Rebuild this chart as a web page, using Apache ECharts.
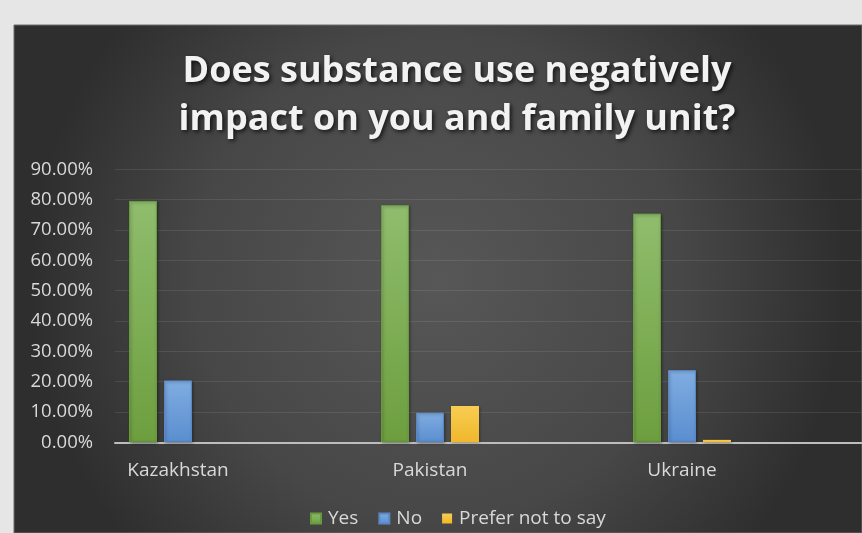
<!DOCTYPE html>
<html>
<head>
<meta charset="utf-8">
<script src="https://cdn.jsdelivr.net/npm/echarts@6/dist/echarts.min.js"></script>
<style>
  html, body { margin: 0; padding: 0; background: #e6e6e6; }
  #chart { width: 862px; height: 533px; }
</style>
</head>
<body>
<div id="chart"></div>
<script>
// Survey answers by country (share of respondents)
const countries = ['Kazakhstan', 'Pakistan', 'Ukraine'];
const yesShare = [0.796, 0.782, 0.754];
const noShare = [0.204, 0.098, 0.238];
const preferNotShare = [0, 0.120, 0.008];
const seriesNames = ['Yes', 'No', 'Prefer not to say'];
const yTicks = { min: 0, max: 0.9, step: 0.1 };

const chart = echarts.init(document.getElementById('chart'));

function barFill(top, bottom) {
  return new echarts.graphic.LinearGradient(0, 0, 0, 1, [
    { offset: 0, color: top },
    { offset: 1, color: bottom }
  ]);
}

function barSeries(name, data, top, bottom, border, borderWidth) {
  return {
    name: name,
    type: 'bar',
    xAxisIndex: 0,
    yAxisIndex: 0,
    data: data,
    barWidth: 28,
    barGap: '25%',
    itemStyle: {
      color: barFill(top, bottom),
      borderColor: border,
      borderWidth: borderWidth,
      shadowColor: 'rgba(0,0,0,0.35)',
      shadowBlur: 3,
      shadowOffsetX: 1,
      shadowOffsetY: 1
    },
    emphasis: { disabled: true },
    z: 3
  };
}

const axisTextColor = '#d9d9d9';
const fontFamily = '"Open Sans", "Noto Sans", sans-serif';

chart.setOption({
  animation: false,
  graphic: [{
    type: 'rect',
    z: -10,
    shape: { x: 14, y: 25, width: 848, height: 508 },
    style: {
      fill: new echarts.graphic.RadialGradient(0.5, 0.5, 0.8, [
        { offset: 0, color: '#575757' },
        { offset: 0.6, color: '#474747' },
        { offset: 1, color: '#2e2e2e' }
      ]),
      stroke: '#6c6c6c',
      lineWidth: 1
    }
  }],
  title: [{
    text: 'Does substance use negatively\nimpact on you and family unit?',
    left: 452,
    top: 43,
    textAlign: 'center',
    textStyle: {
      color: '#f2f2f2',
      fontFamily: fontFamily,
      fontWeight: 'bold',
      fontSize: 36,
      lineHeight: 48,
      textShadowColor: 'rgba(0,0,0,0.7)',
      textShadowBlur: 4,
      textShadowOffsetX: 2,
      textShadowOffsetY: 2
    }
  }],
  legend: {
    data: seriesNames,
    left: 310,
    top: 509,
    padding: 0,
    itemWidth: 10,
    itemHeight: 10,
    itemGap: 20,
    icon: 'rect',
    selectedMode: false,
    textStyle: { color: axisTextColor, fontSize: 19, fontFamily: fontFamily, padding: [0, 0, 0, 2] }
  },
  grid: [
    // grid holding the bars: three equal category bands
    { left: 52, width: 756, top: 169.3, bottom: 90.7, containLabel: false },
    // grid drawing the value scale and gridlines
    { left: 115, right: 0, top: 169.3, bottom: 90.7, containLabel: false }
  ],
  xAxis: [
    {
      type: 'category',
      gridIndex: 0,
      data: countries,
      axisLine: { show: false },
      axisTick: { show: false },
      axisLabel: { color: axisTextColor, fontSize: 19, fontFamily: fontFamily, margin: 19 }
    },
    {
      type: 'value',
      gridIndex: 1,
      min: 0,
      max: 1,
      show: true,
      axisLabel: { show: false },
      axisTick: { show: false },
      splitLine: { show: false },
      axisLine: { show: true, onZero: false, lineStyle: { color: '#bdbdbd', width: 2 } }
    }
  ],
  yAxis: [
    {
      type: 'value',
      gridIndex: 0,
      min: yTicks.min,
      max: yTicks.max,
      interval: yTicks.step,
      show: false,
      splitLine: { show: false }
    },
    {
      type: 'value',
      gridIndex: 1,
      min: yTicks.min,
      max: yTicks.max,
      interval: yTicks.step,
      axisLine: { show: false },
      axisTick: { show: false },
      axisLabel: {
        color: axisTextColor,
        fontSize: 18.5,
        fontFamily: fontFamily,
        margin: 22,
        formatter: v => (v * 100).toFixed(2) + '%'
      },
      splitLine: { lineStyle: { color: 'rgba(255,255,255,0.09)', width: 1 } }
    }
  ],
  series: [
    barSeries(seriesNames[0], yesShare, '#8fbd6d', '#6d9e3e', '#6a9a3f', 1),
    barSeries(seriesNames[1], noShare, '#80ade1', '#5a8ed0', '#5a88c4', 1),
    barSeries(seriesNames[2], preferNotShare, '#f9cd52', '#efb72c', '#d9a52c', 0)
  ]
});
</script>
</body>
</html>
